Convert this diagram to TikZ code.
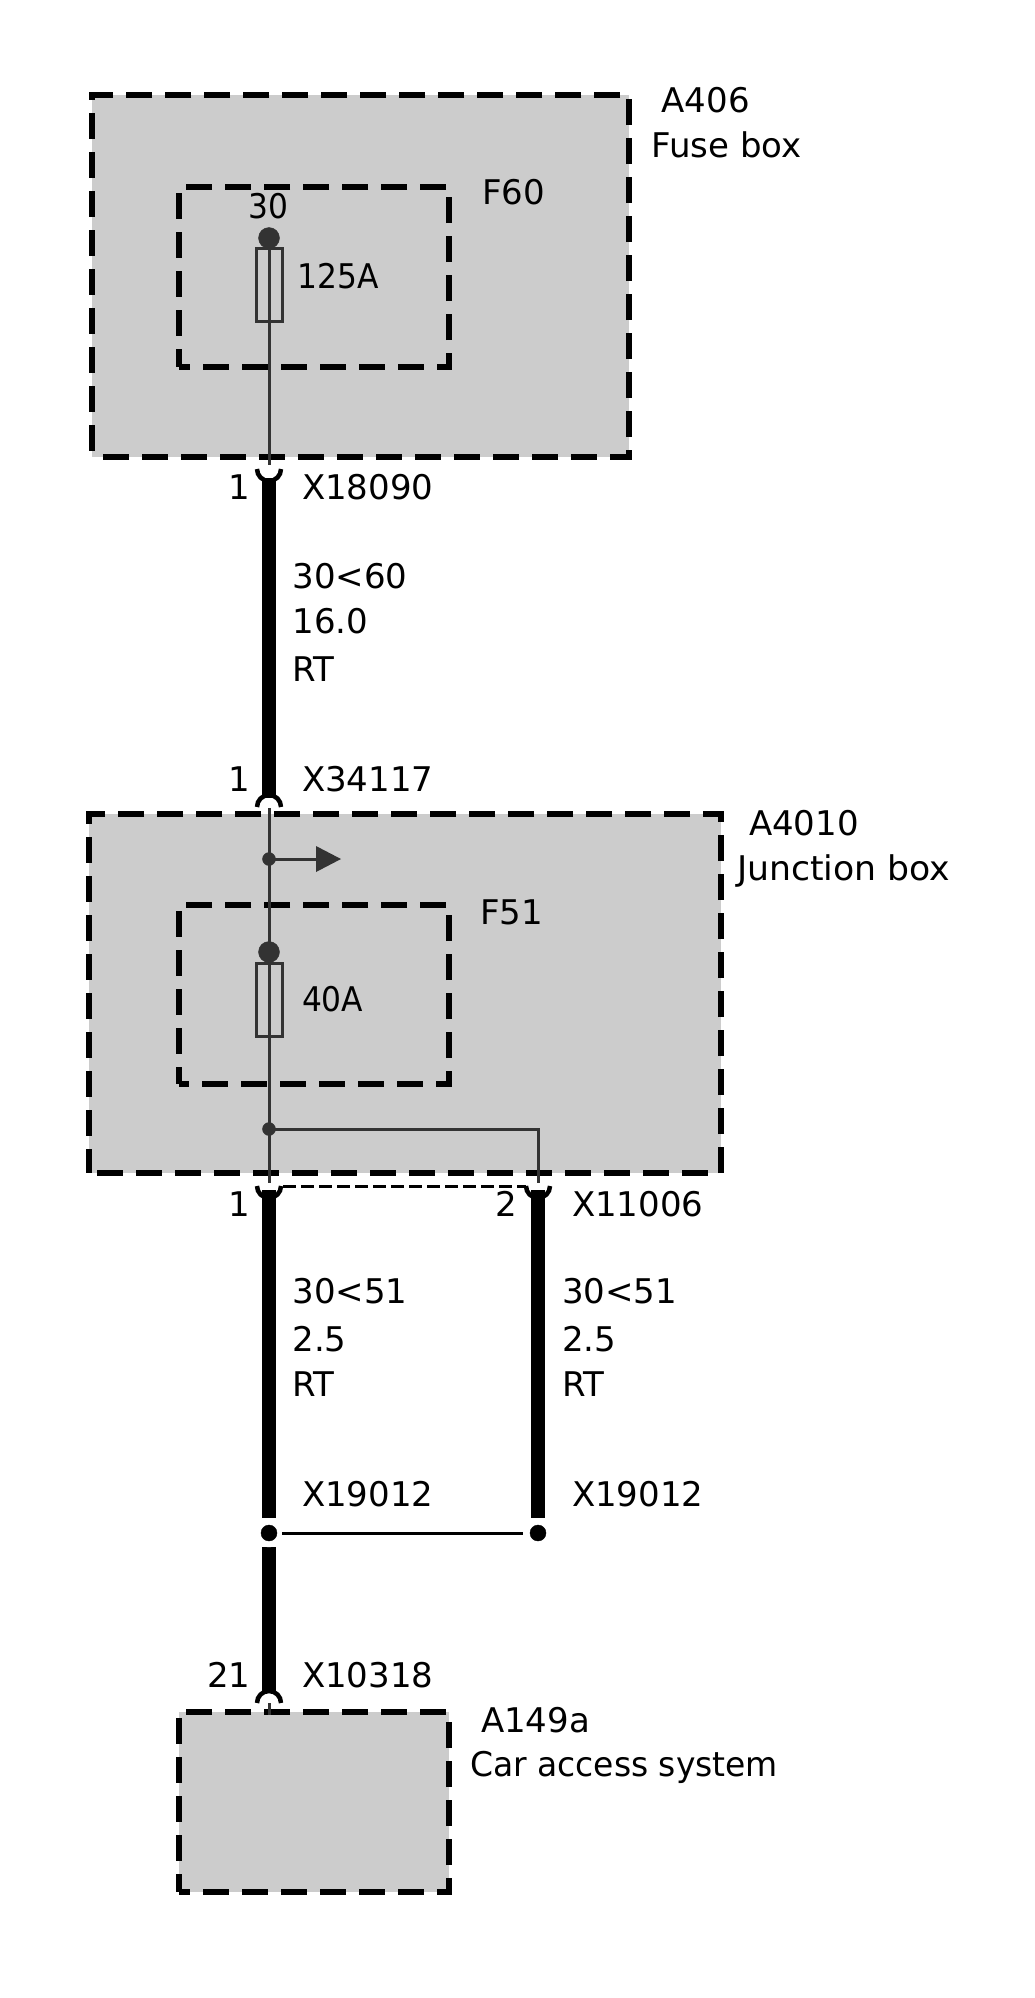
\documentclass[tikz,border=0pt]{standalone}
\usepackage{fontspec}
\setmainfont{DejaVu Sans}
\definecolor{boxgray}{HTML}{CCCCCC}
\definecolor{wiregray}{HTML}{333333}
\tikzset{
  unitbox/.style={draw=black, fill=boxgray, line width=6.5pt, dash pattern=on 26pt off 13pt, dash phase=#1, anchor=north west, inner sep=0pt, outer sep=0pt},
  fusebox/.style={draw=wiregray, fill=boxgray, line width=3pt, anchor=north west, inner sep=0pt, outer sep=0pt},
  lbl/.style={anchor=base west, inner sep=0pt, outer sep=0pt, font=\fontsize{34}{40}\selectfont},
  thinwire/.style={draw=wiregray, line width=3pt},
  thickwire/.style={draw=black, line width=14pt},
  cupline/.style={draw=black, line width=4.5pt},
}
\begin{document}
\begin{tikzpicture}[x=1pt, y=-1pt]
      \useasboundingbox (0, 0) rectangle (1035, 1998);

      % boxes
      \node[unitbox=28pt, minimum width=537pt, minimum height=362pt] (a406) at (92, 95) {};
      \node[unitbox=15pt, minimum width=270pt, minimum height=180pt] (f60) at (179, 187) {};
      \node[unitbox=31pt, minimum width=632pt, minimum height=359pt] (a4010) at (89, 814) {};
      \node[unitbox=16pt, minimum width=270pt, minimum height=179pt] (f51) at (179, 905) {};
      \node[unitbox=15pt, minimum width=270pt, minimum height=180pt] (a149a) at (179, 1712) {};

      % points on the wires
      \coordinate (p18090) at (269, 465);
      \coordinate (w18090) at (269, 478);
      \coordinate (w34117) at (269, 798);
      \coordinate (p34117) at (269, 808);
      \coordinate (p1) at (269, 1183);
      \coordinate (w1) at (269, 1190);
      \coordinate (p2) at (538, 1183);
      \coordinate (w2) at (538, 1190);
      \coordinate (w1a) at (269, 1518);
      \coordinate (w2a) at (538, 1518);
      \coordinate (w1b) at (269, 1547);
      \coordinate (w10318) at (269, 1692);
      \coordinate (p10318) at (269, 1703);
      \coordinate (top10318) at (269, 1715);
      \coordinate (corner) at (538, 1129);
      \coordinate (tipf51) at (341, 859);
      \coordinate (dashl) at (283, 1186);
      \coordinate (dashr) at (526, 1186);

      % fuses
      \node[fusebox, minimum width=26pt, minimum height=73pt] (fuse60) at (256, 248) {};
      \node[fusebox, minimum width=26pt, minimum height=73pt] (fuse51) at (256, 963) {};

      % thin wires
      \filldraw[wiregray] (269, 238) circle (10.5pt) node (dot60) {};
      \filldraw[wiregray] (269, 952) circle (10.5pt) node (dot51) {};
      \filldraw[wiregray] (269, 859) circle (6.5pt) node (jarrow) {};
      \filldraw[wiregray] (269, 1129) circle (6.5pt) node (jbranch) {};
      \draw[thinwire] (dot60.center) -- (p18090);
      \draw[thinwire] (p34117) -- (p1);
      \draw[thinwire] (jbranch.center) -- (corner) -- (p2);
      \draw[thinwire] (jarrow.center) -- (316, 859);
      \fill[wiregray] (316, 846) -- (tipf51) -- (316, 872) -- cycle;
      \draw[black, line width=3pt, dash pattern=on 13pt off 5pt] (dashl) -- (dashr);

      % thick wires
      \draw[thickwire] (w18090) -- (w34117);
      \draw[thickwire] (w1) -- (w1a);
      \draw[thickwire] (w2) -- (w2a);
      \draw[thickwire] (w1b) -- (w10318);
      \draw[thinwire] (p10318) -- (top10318);

      % connectors
      \draw[cupline] (257, 469) arc[start angle=180, end angle=360, radius=12pt];
      \draw[cupline] (257, 1186) arc[start angle=180, end angle=360, radius=12pt];
      \draw[cupline] (526, 1186) arc[start angle=180, end angle=360, radius=12pt];
      \draw[cupline] (257, 807) arc[start angle=180, end angle=0, radius=12pt];
      \draw[cupline] (257, 1703) arc[start angle=180, end angle=0, radius=12pt];

      % splice
      \filldraw[white] (269, 1533) circle (14pt);
      \filldraw[white] (538, 1533) circle (14pt);
      \filldraw[black] (269, 1533) circle (8pt) node (s1) {};
      \filldraw[black] (538, 1533) circle (8pt) node (s2) {};
      \draw[black, line width=3pt] (282, 1533) -- (523, 1533);

      % labels
      \node[lbl] (la406) at (661.5, 112) {A406};
      \node[lbl] (lfuse) at (651.5, 157) {Fuse box};
      \node[lbl] (lf60) at (482, 204) {F60};
      \node[lbl] (l30) at (248.5, 218) {\scalebox{.92}[1]{30}};
      \node[lbl] (l125) at (297.5, 288) {\scalebox{.92}[1]{125A}};
      \node[lbl] (lp18090) at (228, 499) {1};
      \node[lbl] (lx18090) at (302, 499) {X18090};
      \node[lbl] (lw1) at (292.5, 588) {30<60};
      \node[lbl] (lw2) at (292.5, 633) {16.0};
      \node[lbl] (lw3) at (292.5, 681) {RT};
      \node[lbl] (lp34117) at (228, 791) {1};
      \node[lbl] (lx34117) at (302, 791) {X34117};
      \node[lbl] (la4010) at (749, 835) {A4010};
      \node[lbl] (ljunction) at (737, 880) {\scalebox{1.02}[1]{Junction box}};
      \node[lbl] (lf51) at (480, 924) {F51};
      \node[lbl] (l40) at (302, 1011) {\scalebox{.92}[1]{40A}};
      \node[lbl] (lp1) at (228, 1216) {1};
      \node[lbl] (lp2) at (495, 1216) {2};
      \node[lbl] (lx11006) at (572, 1216) {X11006};
      \node[lbl] (la1) at (292.5, 1303) {30<51};
      \node[lbl] (la2) at (292.5, 1351) {2.5};
      \node[lbl] (la3) at (292.5, 1396) {RT};
      \node[lbl] (lb1) at (562, 1303) {30<51};
      \node[lbl] (lb2) at (562, 1351) {2.5};
      \node[lbl] (lb3) at (562, 1396) {RT};
      \node[lbl] (lx19012a) at (302, 1506) {X19012};
      \node[lbl] (lx19012b) at (572, 1506) {X19012};
      \node[lbl] (lp21) at (207, 1687) {21};
      \node[lbl] (lx10318) at (302, 1687) {X10318};
      \node[lbl] (la149) at (481, 1732) {A149a};
      \node[lbl] (lcar) at (470, 1776) {\scalebox{.97}[1]{Car access system}};
\end{tikzpicture}
\end{document}
